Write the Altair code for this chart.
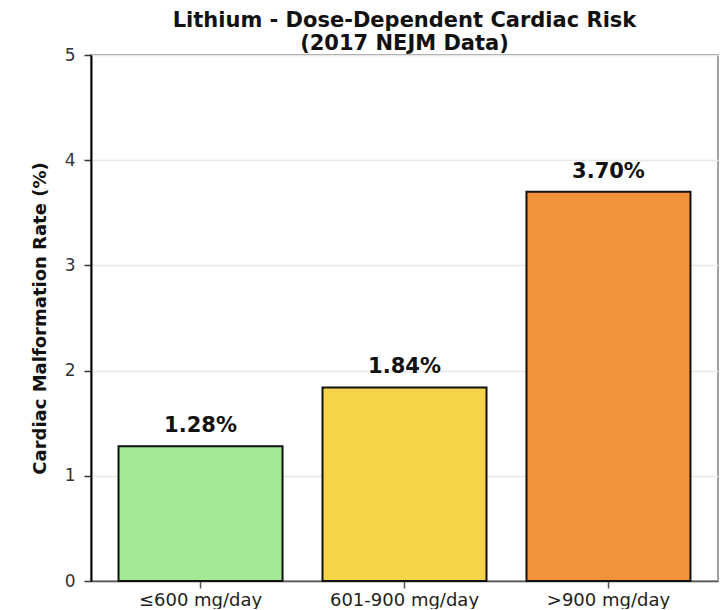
import altair as alt
import pandas as pd

categories = ["≤600 mg/day", "601-900 mg/day", ">900 mg/day"]
rates = [1.28, 1.84, 3.70]
colors = ["#a5e996", "#f6d44a", "#f0933a"]
y_ticks = [0, 1, 2, 3, 4, 5]

df = pd.DataFrame({"dose": categories, "rate": rates})

x_enc = alt.X(
    "dose:N",
    sort=categories,
    scale=alt.Scale(paddingInner=0.196, paddingOuter=0.135),
    axis=alt.Axis(
        title=None, labelAngle=0, labelFontSize=18, labelColor="#222222",
        labelPadding=3, tickSize=7, tickColor="#555555", tickWidth=1.5,
        domainColor="#555555", domainWidth=1.5, grid=False,
    ),
)
y_enc = alt.Y(
    "rate:Q",
    scale=alt.Scale(domain=[0, 5], nice=False),
    axis=alt.Axis(
        title="Cardiac Malformation Rate (%)", values=y_ticks, format="d",
        titleFontSize=18, titleFontWeight="bold", titleColor="#111111",
        titlePadding=15, labelFontSize=17, labelColor="#333333",
        labelPadding=9, tickSize=7, tickColor="#333333", tickWidth=1.5,
        domainColor="#000000", domainWidth=2,
        grid=True, gridColor="#e8e8e8", gridWidth=1.3,
    ),
)

bars = alt.Chart(df).mark_bar(stroke="#111111", strokeWidth=2).encode(
    x=x_enc,
    y=y_enc,
    color=alt.Color("dose:N", sort=categories,
                    scale=alt.Scale(domain=categories, range=colors), legend=None),
)

labels = alt.Chart(df).transform_calculate(
    label="format(datum.rate, '.2f') + '%'"
).mark_text(
    fontSize=21, fontWeight="bold", color="#111111", dy=-14, baseline="alphabetic"
).encode(
    x=alt.X("dose:N", sort=categories),
    y=alt.Y("rate:Q"),
    text="label:N",
)

chart = (bars + labels).properties(
    width=627,
    height=526,
    padding={"left": 23, "top": 2, "right": 2, "bottom": 0},
    title=alt.TitleParams(
        text=["Lithium - Dose-Dependent Cardiac Risk", "(2017 NEJM Data)"],
        fontSize=21, fontWeight="bold", color="#111111",
        anchor="middle", lineHeight=23, offset=-8,
    ),
).configure(
    font="DejaVu Sans",
).configure_view(
    stroke="#a0a0a0", strokeWidth=2,
)

chart.save("out.html", embed_options={"renderer": "svg", "actions": False})
